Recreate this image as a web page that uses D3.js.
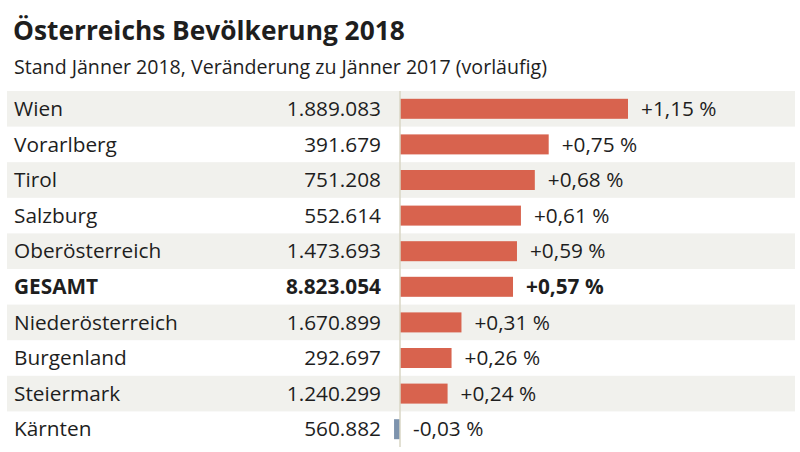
<!DOCTYPE html>
<html><head><meta charset="utf-8">
<script src="https://cdn.jsdelivr.net/npm/d3@7"></script>
<style>body{margin:0;background:#fff}svg{display:block}text{font-family:"Open Sans",sans-serif;fill:#1e1e1e}</style>
</head><body><svg id="c" width="800" height="452"></svg>
<script>
const regions = ["Wien","Vorarlberg","Tirol","Salzburg","Oberösterreich","GESAMT","Niederösterreich","Burgenland","Steiermark","Kärnten"];
const population = ["1.889.083","391.679","751.208","552.614","1.473.693","8.823.054","1.670.899","292.697","1.240.299","560.882"];
const change = [1.15,0.75,0.68,0.61,0.59,0.57,0.31,0.26,0.24,-0.03];
const changeLabels = ["+1,15 %","+0,75 %","+0,68 %","+0,61 %","+0,59 %","+0,57 %","+0,31 %","+0,26 %","+0,24 %","-0,03 %"];

const svg = d3.select("#c");
svg.append("text").attr("x",13).attr("y",40).attr("font-size",26.3).attr("font-weight",700).text("Österreichs Bevölkerung 2018");
svg.append("text").attr("x",14).attr("y",74).attr("font-size",19.6).attr("fill","#333").text("Stand Jänner 2018, Veränderung zu Jänner 2017 (vorläufig)");

const y = d3.scaleBand().domain(regions).range([91,447]).paddingInner(0);
const x = d3.scaleLinear().domain([0,1.15]).range([400,628]);

const rows = svg.append("g").selectAll("g").data(regions).join("g");
rows.filter((d,i)=>i%2===0).append("rect")
  .attr("x",7).attr("width",788).attr("y",d=>y(d)).attr("height",y.bandwidth()).attr("fill","#f1f1ed");

svg.append("line").attr("x1",x(0)).attr("x2",x(0)).attr("y1",91).attr("y2",447).attr("stroke","#d8d6c4").attr("stroke-width",1.5);

const bh = 20;
rows.append("rect")
  .attr("x",(d,i)=>Math.min(x(0),x(change[i])))
  .attr("width",(d,i)=>Math.abs(x(change[i])-x(0)))
  .attr("y",d=>y(d)+y.bandwidth()/2-bh/2).attr("height",bh)
  .attr("fill",(d,i)=>change[i]<0?"#7d93ad":"#d8634e");

const fs = 20.8;
rows.append("text").attr("x",14).attr("y",d=>y(d)+y.bandwidth()/2).attr("dy","0.35em")
  .attr("font-size",fs).attr("font-weight",d=>d==="GESAMT"?700:400).text(d=>d);
rows.append("text").attr("x",381).attr("text-anchor","end").attr("y",d=>y(d)+y.bandwidth()/2).attr("dy","0.35em")
  .attr("font-size",fs).attr("font-weight",d=>d==="GESAMT"?700:400).text((d,i)=>population[i]);
rows.append("text").attr("x",(d,i)=>Math.max(x(0),x(change[i]))+13).attr("y",d=>y(d)+y.bandwidth()/2).attr("dy","0.35em")
  .attr("font-size",fs).attr("font-weight",d=>d==="GESAMT"?700:400).text((d,i)=>changeLabels[i]);
</script></body></html>
